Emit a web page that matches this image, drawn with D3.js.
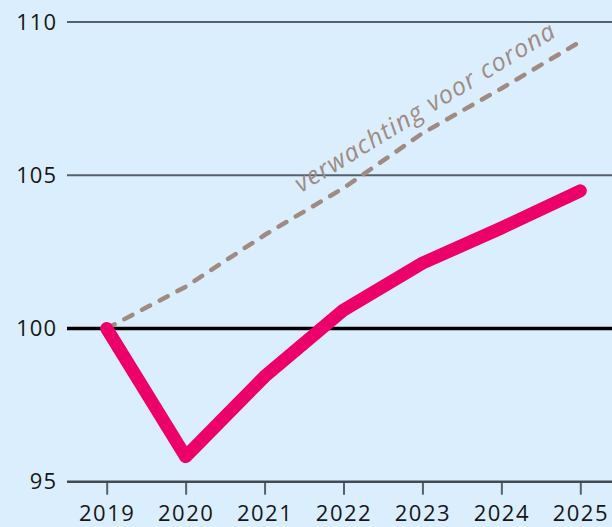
<!DOCTYPE html>
<html>
<head>
<meta charset="utf-8">
<script src="https://cdn.jsdelivr.net/npm/d3@7"></script>
<style>
  body { margin: 0; background: #dbeefe; }
  svg { display: block; }
</style>
</head>
<body>
<script>
// data
const years = [2019, 2020, 2021, 2022, 2023, 2024, 2025];
const actual = [100, 95.82, 98.43, 100.6, 102.13, 103.28, 104.49];
const expected = [100, 101.36, 103.05, 104.58, 106.37, 107.83, 109.36];
const yTicks = [95, 100, 105, 110];
const dashLabel = 'verwachting voor corona';

const w = 612;
const h = 527;

const xScale = d3.scaleLinear().domain([2019, 2025]).range([106.7, 580.3]);
const yScale = d3.scaleLinear().domain([95, 110]).range([481.7, 22]);

const svg = d3.select('body').append('svg').attr('width', w).attr('height', h);

svg.append('rect').attr('width', w).attr('height', h).attr('fill', '#dbeefe');

const font = "'Open Sans', sans-serif";

// horizontal gridlines
svg.selectAll('.grid')
  .data(yTicks.filter((d) => d !== 95 && d !== 100))
  .enter()
  .append('line')
  .attr('class', 'grid')
  .attr('x1', 67)
  .attr('x2', w)
  .attr('y1', (d) => yScale(d))
  .attr('y2', (d) => yScale(d))
  .attr('stroke', '#56616b')
  .attr('stroke-width', 2);

// x axis at 95
const xAxis = d3.axisBottom(xScale)
  .tickValues(years)
  .tickFormat(d3.format('d'))
  .tickSize(13)
  .tickSizeOuter(0)
  .tickPadding(11);

const gx = svg.append('g')
  .attr('transform', 'translate(0,' + yScale(95) + ')')
  .call(xAxis);
gx.select('.domain').remove();
gx.append('line')
  .attr('x1', 67).attr('x2', w)
  .attr('stroke', '#3f4a53').attr('stroke-width', 2.5);
gx.selectAll('.tick line').attr('stroke', '#56616b').attr('stroke-width', 2);
gx.selectAll('.tick text')
  .attr('fill', '#161616')
  .style('font-family', font)
  .style('font-weight', 500)
  .style('font-size', '22px')
  .style('letter-spacing', '1.5px');

// y labels
const yAxis = d3.axisLeft(yScale).tickValues(yTicks).tickSize(0).tickPadding(10);
const gy = svg.append('g').attr('transform', 'translate(67,0)').call(yAxis);
gy.select('.domain').remove();
gy.selectAll('.tick text')
  .attr('fill', '#161616')
  .style('font-family', font)
  .style('font-weight', 500)
  .style('font-size', '22px')
  .style('letter-spacing', '1px');

// 100 baseline
svg.append('line')
  .attr('x1', 67).attr('x2', w)
  .attr('y1', yScale(100)).attr('y2', yScale(100))
  .attr('stroke', '#000').attr('stroke-width', 3.5);

const line = d3.line()
  .x((d, i) => xScale(years[i]))
  .y((d) => yScale(d));

// expectation before corona
svg.append('path')
  .datum(expected)
  .attr('d', line)
  .attr('fill', 'none')
  .attr('stroke', '#9f8b81')
  .attr('stroke-width', 4.5)
  .attr('stroke-linecap', 'round')
  .attr('stroke-dasharray', '9,11');

svg.append('text')
  .attr('transform', 'translate(301,193) rotate(-31.5)')
  .attr('fill', '#9f8b81')
  .style('font-family', font)
  .style('font-style', 'italic')
  .style('font-size', '25px')
  .style('letter-spacing', '1.2px')
  .text(dashLabel);

// actual
svg.append('path')
  .datum(actual)
  .attr('d', line)
  .attr('fill', 'none')
  .attr('stroke', '#ec006a')
  .attr('stroke-width', 13)
  .attr('stroke-linecap', 'round')
  .attr('stroke-linejoin', 'round');
</script>
</body>
</html>
